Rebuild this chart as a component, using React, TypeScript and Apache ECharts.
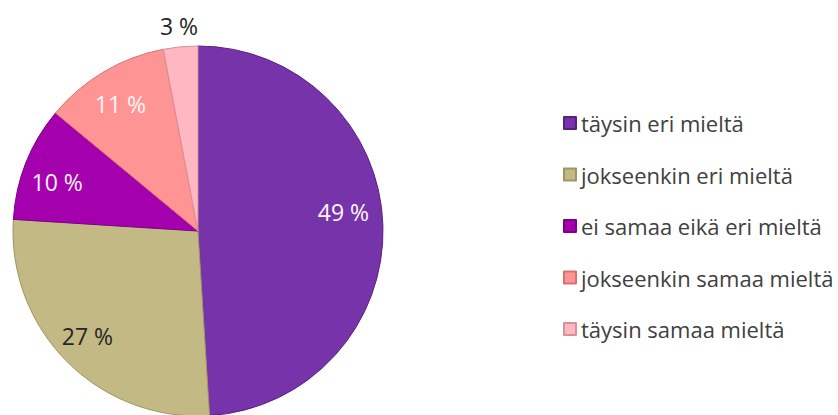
import React, { useEffect, useRef } from "react";
import * as echarts from "echarts";

const categories = [
  "täysin eri mieltä",
  "jokseenkin eri mieltä",
  "ei samaa eikä eri mieltä",
  "jokseenkin samaa mieltä",
  "täysin samaa mieltä",
];
const values = [49, 27, 10, 11, 3];
const colors = ["#7733AA", "#C2B985", "#A500AE", "#FF9494", "#FFB8C2"];
const borderColors = ["#5A2080", "#9E9565", "#7E0086", "#D97070", "#D99098"];
const labelColors = ["#FFF5FA", "#262626", "#FFF0FA", "#FFF5F5", "#262626"];
const labelOffsets: [number, number][] = [
  [50, -16],
  [-43, 37],
  [-52, -14],
  [-29, -45],
  [-10, -110],
];

export default function App() {
  const ref = useRef<HTMLDivElement>(null);
  useEffect(() => {
    if (!ref.current) return;
    const chart = echarts.init(ref.current, undefined, { renderer: "svg" });
    chart.setOption({
      animation: false,
      backgroundColor: "#FFFFFF",
      legend: {
        orient: "vertical",
        left: 558,
        top: 107,
        icon: "rect",
        itemWidth: 12,
        itemHeight: 12,
        itemGap: 29.5,
        textStyle: {
          fontFamily: "Open Sans",
          fontSize: 22,
          color: "#404040",
          lineHeight: 22,
        },
        data: categories,
      },
      series: [
        {
          type: "pie",
          center: [198, 231],
          radius: 185,
          startAngle: 90,
          clockwise: true,
          label: {
            show: true,
            position: "inside",
            fontFamily: "Open Sans",
            fontSize: 23,
            formatter: "{c} %",
          },
          labelLine: { show: false },
          emphasis: { disabled: true },
          data: categories.map((name, i) => ({
            name,
            value: values[i],
            itemStyle: {
              color: colors[i],
              borderColor: borderColors[i],
              borderWidth: 1,
            },
            label: { color: labelColors[i], offset: labelOffsets[i] },
          })),
        },
      ],
    });
    return () => chart.dispose();
  }, []);
  return (
    <div
      ref={ref}
      style={{ position: "fixed", left: 0, top: 0, width: 838, height: 415 }}
    />
  );
}
